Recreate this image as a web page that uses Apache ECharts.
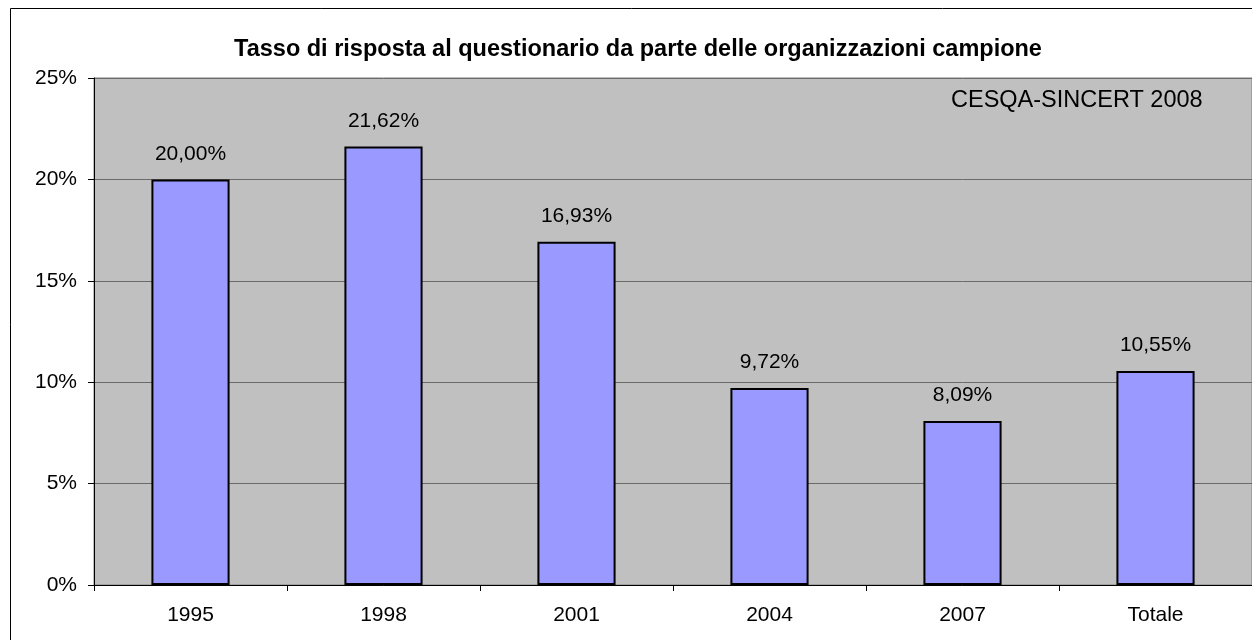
<!DOCTYPE html>
<html><head><meta charset="utf-8">
<script src="https://cdn.jsdelivr.net/npm/echarts@6/dist/echarts.min.js"></script>
<style>html,body{margin:0;padding:0;background:#fff}#c{width:1252px;height:640px}</style>
</head><body><div id="c"></div>
<script>
const categories = ['1995','1998','2001','2004','2007','Totale'];
const values = [20.00, 21.62, 16.93, 9.72, 8.09, 10.55];
const yTicks = [0, 5, 10, 15, 20, 25];
const titleText = 'Tasso di risposta al questionario da parte delle organizzazioni campione';
const noteText = 'CESQA-SINCERT 2008';

const font = '"Liberation Sans", Arial, sans-serif';
const chart = echarts.init(document.getElementById('c'), null, {renderer:'canvas'});
chart.setOption({
  animation:false,
  backgroundColor:'#fff',
  title:{text:titleText,left:633,top:33,textAlign:'center',
    textStyle:{fontFamily:font,fontSize:23.5,fontWeight:'bold',color:'#000'}},
  graphic:[
    {type:'rect',shape:{x:10.5,y:8.5,width:1260,height:650},style:{fill:'none',stroke:'#000',lineWidth:1},z:100},
    {type:'text',left:951,top:89,style:{text:noteText,font:'23.5px "Liberation Sans", Arial, sans-serif',fill:'#000'},z:100}
  ],
  grid:{left:94,top:78,width:1162,height:507,show:true,backgroundColor:'#C0C0C0',borderColor:'#808080',borderWidth:1},
  xAxis:{type:'category',data:categories,
    axisLine:{lineStyle:{color:'#000',width:1}},
    axisTick:{show:true,length:6,interval:0,lineStyle:{color:'#000'}},
    axisLabel:{fontFamily:font,fontSize:21,color:'#000',margin:20}},
  yAxis:{type:'value',min:yTicks[0],max:yTicks[yTicks.length-1],interval:5,
    axisLine:{show:true,lineStyle:{color:'#000'}},
    axisTick:{show:true,inside:false,length:6,lineStyle:{color:'#000'}},
    splitLine:{show:true,lineStyle:{color:'#6a6a6a',width:1}},
    axisLabel:{fontFamily:font,fontSize:21,color:'#000',margin:17,formatter:v=>v+'%'}},
  series:[{type:'bar',data:values,barWidth:'40.5%',
    itemStyle:{color:'#9999FF',borderColor:'#000',borderWidth:2},
    label:{show:true,position:'top',distance:15,fontFamily:font,fontSize:21,color:'#000',
      formatter:p=>p.value.toFixed(2).replace('.',',')+'%'}}]
});
</script></body></html>
